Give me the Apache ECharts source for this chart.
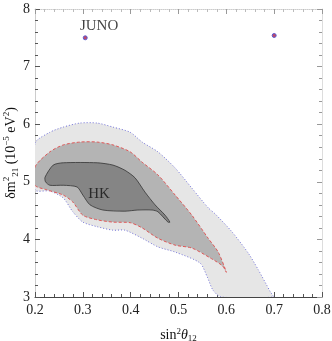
<!DOCTYPE html>
<html>
<head>
<meta charset="utf-8">
<script src="https://cdn.jsdelivr.net/npm/echarts@6/dist/echarts.min.js"></script>
<style>
  html, body { margin: 0; padding: 0; background: #fff; }
  #chart { width: 332px; height: 341px; }
</style>
</head>
<body>
<div id="chart"></div>
<script>
// axis ranges / ticks
const xTicks = [0.2, 0.3, 0.4, 0.5, 0.6, 0.7, 0.8];
const yTicks = [3, 4, 5, 6, 7, 8];

// HK allowed regions (sin^2 theta12, dm^2_21), outer to inner
const hkOuter = [
  [0.200, 5.67], [0.231, 5.86], [0.259, 5.95], [0.294, 6.02], [0.330, 6.02],
  [0.363, 5.95], [0.399, 5.86], [0.424, 5.69], [0.457, 5.52], [0.493, 5.24],
  [0.528, 4.89], [0.562, 4.55], [0.577, 4.44], [0.612, 4.13], [0.646, 3.76],
  [0.667, 3.47], [0.692, 3.09], [0.698, 3.00], [0.589, 3.00], [0.572, 3.12],
  [0.560, 3.35], [0.545, 3.59], [0.493, 3.78], [0.457, 3.87], [0.424, 4.02],
  [0.388, 4.16], [0.363, 4.16], [0.330, 4.22], [0.300, 4.30], [0.279, 4.48],
  [0.259, 4.72], [0.231, 4.84], [0.200, 4.86]
];
const hkMid = [
  [0.200, 5.26], [0.231, 5.52], [0.259, 5.64], [0.294, 5.69], [0.330, 5.69],
  [0.363, 5.64], [0.399, 5.52], [0.424, 5.34], [0.457, 5.12], [0.493, 4.77],
  [0.528, 4.42], [0.562, 4.02], [0.583, 3.78], [0.600, 3.43], [0.592, 3.54],
  [0.566, 3.68], [0.528, 3.85], [0.493, 3.90], [0.457, 4.02], [0.424, 4.20],
  [0.399, 4.29], [0.363, 4.30], [0.330, 4.34], [0.300, 4.42], [0.279, 4.65],
  [0.259, 4.77], [0.225, 4.86], [0.200, 4.94]
];
const hkInner = [
  [0.221, 5.08], [0.238, 5.29], [0.259, 5.33], [0.330, 5.33], [0.363, 5.29],
  [0.388, 5.20], [0.409, 5.07], [0.430, 4.82], [0.451, 4.60], [0.472, 4.42],
  [0.482, 4.30], [0.478, 4.30], [0.457, 4.48], [0.445, 4.51], [0.415, 4.51],
  [0.388, 4.49], [0.342, 4.51], [0.315, 4.60], [0.300, 4.77], [0.288, 4.91],
  [0.259, 4.94], [0.231, 4.94], [0.222, 5.00]
];

// JUNO best-fit blobs
const junoPoints = [[0.305, 7.50], [0.700, 7.54]];

// text labels
const labelNames = ['JUNO', 'HK'];
const labelPos = [[0.334, 7.70], [0.334, 4.79]];

const serif = "'Liberation Serif', 'Times New Roman', serif";

function regionSeries(points, fill, stroke, dash, width) {
  return {
    type: 'custom',
    coordinateSystem: 'cartesian2d',
    clip: true,
    silent: true,
    data: [[0]],
    renderItem: function (params, api) {
      return {
        type: 'polygon',
        shape: { points: points.map(p => api.coord(p)), smooth: 0.25 },
        style: { fill: fill, stroke: stroke, lineWidth: width, lineDash: dash }
      };
    }
  };
}

const chart = echarts.init(document.getElementById('chart'));

const tickStyle = { color: '#555', width: 1 };

chart.setOption({
  animation: false,
  grid: { left: 35, right: 10, top: 9, bottom: 44, outerBoundsMode: 'none', containLabel: false },
  xAxis: [
    {
      type: 'value', min: xTicks[0], max: xTicks[xTicks.length - 1], interval: 0.1,
      name: 'sin{sup|2}{th|θ}{sub|12}', nameLocation: 'middle', nameGap: 30,
      nameMoveOverlap: false,
      nameTextStyle: {
        fontFamily: serif, fontSize: 14, color: '#111',
        rich: {
          sup: { fontFamily: serif, fontSize: 9, verticalAlign: 'top', lineHeight: 16, color: '#111' },
          sub: { fontFamily: serif, fontSize: 9, verticalAlign: 'bottom', lineHeight: 16, color: '#111' },
          th: { fontFamily: serif, fontSize: 14, fontStyle: 'italic', lineHeight: 16, color: '#111' }
        }
      },
      axisLine: { show: true, onZero: false, lineStyle: { color: '#444', width: 1 } },
      axisTick: { show: true, inside: true, length: 5, lineStyle: tickStyle },
      minorTick: { show: true, splitNumber: 5, length: 3, lineStyle: tickStyle },
      splitLine: { show: false },
      axisLabel: { fontFamily: serif, fontSize: 14, color: '#222', margin: 6,
        formatter: v => v.toFixed(1) }
    },
    {
      type: 'value', position: 'top', min: 0.2, max: 0.8, interval: 0.1,
      axisLine: { show: true, onZero: false, lineStyle: { color: '#ccc', type: 'dotted' } },
      axisTick: { show: true, inside: true, length: 5, lineStyle: { color: '#999' } },
      minorTick: { show: true, splitNumber: 5, length: 3, lineStyle: { color: '#bbb' } },
      axisLabel: { show: false }, splitLine: { show: false }
    }
  ],
  yAxis: [
    {
      type: 'value', min: yTicks[0], max: yTicks[yTicks.length - 1], interval: 1,
      name: '{a|δm}{sup|2}{sub|21}{a| (10}{sup|−5}{a| eV}{sup|2}{a|)}',
      nameLocation: 'middle', nameRotate: 90, nameGap: 15,
      nameMoveOverlap: false,
      nameTextStyle: {
        fontFamily: serif, fontSize: 14, color: '#111',
        rich: {
          a: { fontFamily: serif, fontSize: 14, lineHeight: 18, color: '#111' },
          sup: { fontFamily: serif, fontSize: 9, verticalAlign: 'top', lineHeight: 18, color: '#111' },
          sub: { fontFamily: serif, fontSize: 9, verticalAlign: 'bottom', lineHeight: 18, color: '#111' }
        }
      },
      axisLine: { show: true, onZero: false, lineStyle: { color: '#ccc', width: 1 } },
      axisTick: { show: true, inside: true, length: 5, lineStyle: tickStyle },
      minorTick: { show: true, splitNumber: 5, length: 3, lineStyle: tickStyle },
      splitLine: { show: false },
      axisLabel: { fontFamily: serif, fontSize: 14, color: '#222', margin: 5 }
    },
    {
      type: 'value', position: 'right', min: 3, max: 8, interval: 1,
      axisLine: { show: true, onZero: false, lineStyle: { color: '#ddd' } },
      axisTick: { show: true, inside: true, length: 5, lineStyle: { color: '#999' } },
      minorTick: { show: true, splitNumber: 5, length: 3, lineStyle: { color: '#999' } },
      axisLabel: { show: false }, splitLine: { show: false }
    }
  ],
  series: [
    regionSeries(hkOuter, '#e6e6e6', '#7070d8', [1, 2], 1),
    regionSeries(hkMid, '#b4b4b4', '#e05858', [3, 2], 1),
    regionSeries(hkInner, '#858585', '#333', null, 0.8),
    {
      type: 'scatter',
      data: junoPoints,
      symbol: 'circle',
      symbolSize: [4, 4],
      silent: true,
      itemStyle: { color: '#c04868', borderColor: '#5a5ad0', borderWidth: 1, opacity: 1 }
    },
    {
      type: 'scatter',
      data: labelPos.map((p, i) => ({ value: p, name: labelNames[i] })),
      symbolSize: 0,
      silent: true,
      label: {
        show: true, position: 'inside', formatter: '{b}',
        fontFamily: serif, fontSize: 15, color: '#111'
      }
    }
  ]
});
</script>
</body>
</html>
